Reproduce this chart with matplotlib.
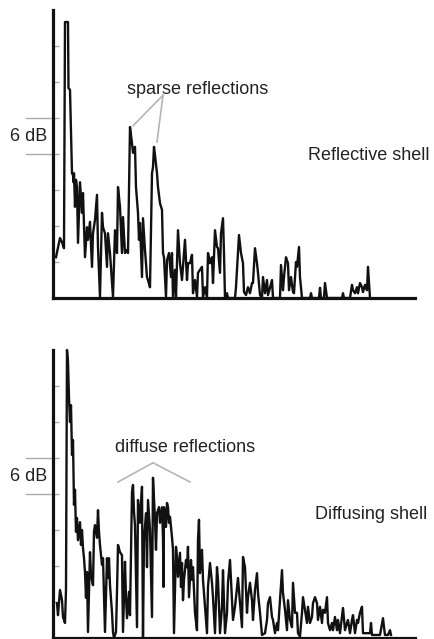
import matplotlib
matplotlib.use("Agg")
import matplotlib.pyplot as plt
import matplotlib.transforms as mtransforms

plt.rcParams['font.family'] = ['Liberation Sans', 'DejaVu Sans']

# echo level (dB above floor) vs time, reflective shell
t_reflective = [
    3, 7, 9, 11, 12, 15, 15.5, 17, 18, 19,
    20, 20.5, 21, 22, 23, 24, 25, 27, 29, 30,
    32, 34, 35, 37, 39, 40, 42, 44, 45, 47,
    49, 50, 52, 54, 55, 57, 59, 60, 62, 64,
    65, 67, 69, 70, 72, 74, 75, 77, 79, 80,
    82, 83, 84, 85, 86, 87, 89, 90, 92, 94,
    95, 97, 99, 100, 101, 102, 104, 105, 107, 109,
    110, 111, 113, 114, 116, 118, 119, 120, 122, 123,
    125, 127, 129, 130, 132, 134, 135, 137, 139, 140,
    142, 144, 145, 147, 149, 150, 152, 154, 155, 157,
    159, 160, 162, 164, 165, 167, 168, 170, 171, 172,
    174, 175, 182, 183, 185, 186, 188, 190, 191, 193,
    195, 197, 199, 200, 202, 204, 205, 207, 209, 210,
    212, 214, 215, 217, 219, 220, 227, 228, 230, 231,
    233, 235, 236, 238, 240, 241, 243, 244, 246, 247,
    249, 257, 258, 259, 266, 267, 268, 271, 272, 274,
    289, 290, 291, 297, 299, 300, 302, 304, 305, 307,
    309, 310, 312, 314, 315, 317,
]
lvl_reflective = [
    6.8, 10.0, 9.3, 8.3, 46.0, 46.0, 35.0, 34.7, 27.5, 20.8,
    20.5, 19.3, 20.8, 15.2, 19.7, 18.5, 9.2, 19.3, 14.2, 17.5,
    6.8, 11.8, 9.7, 12.7, 5.2, 10.8, 13.0, 17.2, 8.5, 0.2,
    14.2, 11.8, 10.8, 5.2, 10.8, 7.5, 2.5, 0.2, 11.3, 7.5,
    18.5, 15.2, 7.5, 13.5, 7.5, 8.0, 7.5, 28.5, 25.8, 24.2,
    25.2, 18.5, 16.3, 14.2, 9.7, 12.5, 3.5, 13.3, 8.0, 3.5,
    3.0, 1.8, 20.8, 21.8, 25.2, 23.8, 20.8, 18.5, 15.8, 14.7,
    7.5, 6.8, 0.2, 6.3, 7.5, 3.5, 7.5, 0.2, 4.7, 0.2,
    11.3, 5.8, 3.0, 5.2, 9.7, 3.0, 5.8, 5.8, 7.2, 0.8,
    3.0, 0.2, 4.2, 4.7, 5.2, 0.2, 1.8, 0.2, 7.5, 5.8,
    6.8, 2.5, 11.3, 8.5, 8.3, 4.2, 10.8, 13.3, 7.5, 0,
    0.8, 0, 0, 1.8, 7.5, 10.5, 7.5, 5.8, 1.0, 0.5,
    1.8, 0.8, 2.5, 2.5, 8.3, 5.8, 4.2, 0.5, 0, 3.5,
    0.8, 3.0, 0.5, 1.7, 3.0, 0, 0, 5.5, 1.3, 3.5,
    6.8, 5.8, 1.3, 3.5, 1.0, 0.8, 6.0, 5.2, 8.5, 3.5,
    0, 0, 0.8, 0, 0, 1.7, 0, 0, 2.5, 0,
    0, 0.8, 0, 0, 2.2, 1.3, 0.8, 1.8, 0.8, 2.5,
    1.8, 1.0, 2.2, 1.3, 5.2, 0,
]

# echo level vs time, diffusing shell
t_diffusing = [
    4, 5, 7, 9, 10, 12, 13, 14, 15, 16,
    17, 18, 19, 20, 21, 22, 23, 24, 25, 27,
    28, 29, 30, 31, 32, 33, 34, 35, 37, 38,
    40, 41, 42, 44, 45, 46, 47, 49, 50, 52,
    54, 55, 56, 57, 59, 60, 61, 63, 64, 65,
    67, 69, 70, 72, 73, 74, 76, 77, 79, 80,
    81, 82, 84, 85, 87, 89, 90, 91, 93, 94,
    95, 97, 99, 100, 102, 103, 104, 106, 107, 109,
    110, 110.5, 111, 113, 114, 115, 116, 117, 119, 120,
    121, 123, 124, 125, 127, 128, 129, 130, 131, 133,
    134, 135, 136, 138, 139, 140, 142, 144, 145, 146,
    147, 149, 150, 152, 154, 155, 157, 159, 160, 162,
    164, 165, 167, 169, 170, 172, 174, 175, 177, 179,
    180, 182, 184, 185, 187, 189, 190, 192, 194, 195,
    197, 199, 200, 202, 204, 205, 207, 209, 212, 214,
    215, 217, 219, 220, 222, 224, 225, 227, 229, 230,
    232, 234, 235, 237, 239, 240, 242, 244, 245, 247,
    249, 250, 252, 254, 255, 257, 259, 260, 262, 264,
    265, 267, 269, 270, 272, 274, 275, 277, 279, 280,
    282, 284, 285, 287, 289, 290, 292, 294, 295, 297,
    299, 300, 302, 304, 305, 307, 309, 310, 314, 317,
    318, 319, 327, 330, 331, 332, 335, 337, 338,
]
lvl_diffusing = [
    5.8, 3.8, 8.0, 6.3, 3.5, 2.5, 8.0, 48.0, 46.0, 40.0,
    36.0, 38.8, 30.5, 33.0, 22.2, 24.7, 17.7, 20.0, 16.3, 19.3,
    15.5, 18.0, 15.0, 13.3, 11.0, 6.7, 11.0, 1.0, 14.3, 10.5,
    8.8, 17.7, 18.8, 16.7, 21.3, 17.7, 15.5, 12.2, 13.3, 1.0,
    13.3, 10.0, 13.3, 8.8, 4.3, 1.0, 0, 1.0, 7.7, 15.5,
    14.3, 13.8, 1.0, 12.7, 6.7, 3.3, 7.7, 3.8, 24.3, 25.5,
    21.0, 18.8, 1.8, 23.0, 19.2, 25.2, 0.2, 16.3, 20.8, 11.8,
    23.0, 18.0, 3.5, 26.7, 19.7, 14.7, 20.8, 21.8, 19.2, 21.8,
    16.8, 8.5, 21.8, 18.5, 22.5, 21.8, 19.2, 20.2, 16.8, 14.7,
    0.8, 15.2, 13.5, 10.2, 14.2, 8.5, 12.5, 6.3, 9.7, 13.0,
    11.8, 15.2, 6.8, 13.0, 9.7, 11.8, 4.2, 1.3, 16.3, 19.7,
    10.8, 14.7, 9.7, 5.2, 0.8, 8.5, 12.5, 9.2, 6.8, 0.8,
    11.8, 9.7, 0.8, 5.2, 11.3, 0.8, 4.2, 9.2, 13.0, 6.3,
    3.0, 5.2, 8.5, 10.0, 5.8, 1.8, 13.5, 11.8, 4.2, 6.8,
    9.2, 6.3, 3.0, 8.0, 10.8, 7.5, 4.2, 0.5, 0.8, 3.0,
    5.8, 6.8, 3.5, 3.0, 0.8, 2.5, 1.3, 6.3, 11.3, 7.5,
    4.7, 1.3, 6.3, 3.0, 1.8, 9.2, 4.2, 4.2, 0.8, 0.2,
    4.2, 6.8, 4.7, 2.5, 5.2, 2.5, 3.5, 5.8, 6.8, 5.8,
    3.0, 5.2, 2.5, 4.7, 4.2, 6.8, 2.5, 1.3, 2.5, 1.3,
    3.5, 1.3, 3.0, 0.8, 3.5, 5.0, 1.3, 2.5, 3.0, 0.8,
    3.0, 3.8, 0.8, 3.0, 2.5, 4.2, 5.2, 0.8, 0.8, 0.8,
    2.5, 0.5, 0.5, 3.3, 1.8, 0.5, 0.5, 1.3, 0.5,
]

grid_db = [6, 12, 18, 24, 30, 36, 42]
span_db = [24, 30]

fig = plt.figure(figsize=(4.34, 6.39), dpi=100)
ax_top = fig.add_axes([0.1221, 0.5336, 0.8341, 0.4507])
ax_bot = fig.add_axes([0.1221, 0.0016, 0.8341, 0.4507])

panels = [
    (ax_top, t_reflective, lvl_reflective, 'Reflective shell', 255, 23.8),
    (ax_bot, t_diffusing, lvl_diffusing, 'Diffusing shell', 262, 20.5),
]
for ax, t, lvl, name, name_x, name_y in panels:
    ax.plot(t, lvl, color='#111111', lw=1.7, clip_on=False, zorder=3)
    ax.set_xlim(0, 362)
    ax.set_ylim(0, 48)
    for side in ('top', 'right'):
        ax.spines[side].set_visible(False)
    for side in ('left', 'bottom'):
        ax.spines[side].set_linewidth(2.3)
        ax.spines[side].set_color('#111111')
    ax.set_xticks([])
    ax.set_yticks(grid_db)
    ax.set_yticklabels([])
    ax.tick_params(axis='y', direction='in', length=4, width=1, color='#aaaaaa')
    ax.patch.set_alpha(0)

    # 6 dB scale marker left of the axis
    trans = mtransforms.blended_transform_factory(ax.transAxes, ax.transData)
    for y in span_db:
        ax.plot([-0.075, 0], [y, y], transform=trans, color='#aaaaaa', lw=1.0, clip_on=False)
    ax.text(-0.017, 26.9, '6 dB', transform=trans, ha='right', va='center',
            fontsize=13, color='#222222')
    ax.text(name_x, name_y, name, ha='left', va='center', fontsize=13,
            color='#222222', clip_on=False)

ax_top.text(74, 34.7, 'sparse reflections', ha='left', va='center',
            fontsize=13, color='#222222')
ax_top.plot([110, 80], [33.8, 28.7], color='#b5b5b5', lw=1.2)
ax_top.plot([110, 104], [33.8, 26.0], color='#b5b5b5', lw=1.2)

ax_bot.text(62, 31.8, 'diffuse reflections', ha='left', va='center',
            fontsize=13, color='#222222')
ax_bot.plot([65, 100, 137], [26.0, 29.2, 26.0], color='#b5b5b5', lw=1.2)

fig.savefig('out.png', dpi=100)
